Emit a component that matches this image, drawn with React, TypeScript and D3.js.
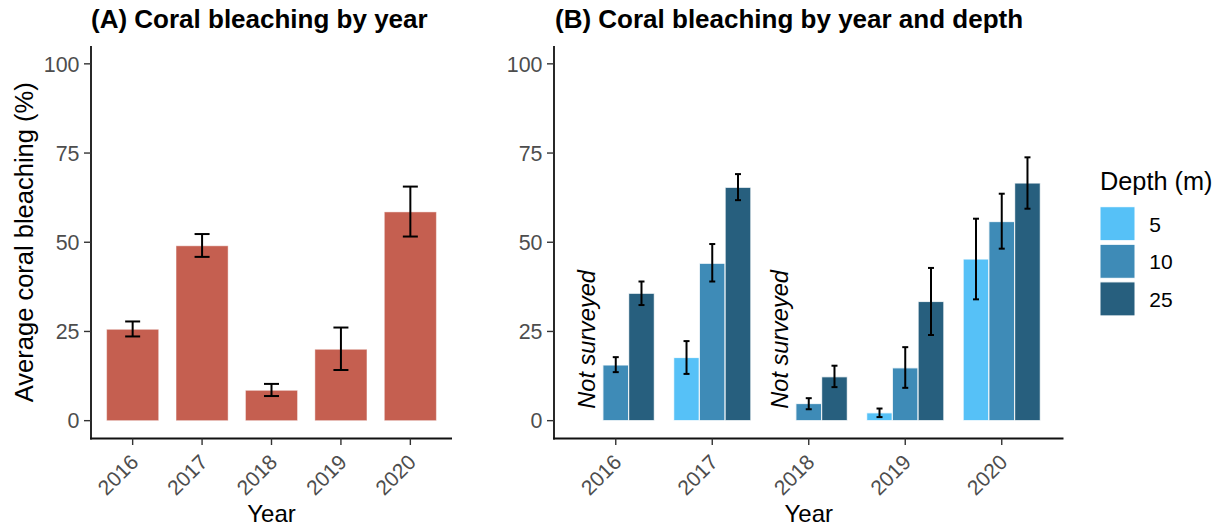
import * as d3 from "d3"

const years = ["2016", "2017", "2018", "2019", "2020"]
const depths = ["5", "10", "25"]
const yTicks = [0, 25, 50, 75, 100]

// panel A: overall mean and error bounds
const overallMean = [25.6, 49.0, 8.5, 20.0, 58.5]
const overallLow = [23.6, 45.9, 6.9, 14.2, 51.6]
const overallHigh = [27.8, 52.3, 10.3, 26.1, 65.6]

// panel B: by depth (null = not surveyed)
const mean5 = [null, 17.7, null, 2.2, 45.3]
const low5 = [null, 13.1, null, 1.0, 34.0]
const high5 = [null, 22.3, null, 3.4, 56.6]
const mean10 = [15.6, 44.1, 4.8, 14.8, 55.8]
const low10 = [13.6, 39.0, 3.2, 9.2, 48.2]
const high10 = [17.8, 49.5, 6.3, 20.6, 63.6]
const mean25 = [35.7, 65.4, 12.3, 33.4, 66.6]
const low25 = [32.4, 61.8, 9.4, 24.0, 59.4]
const high25 = [39.0, 69.1, 15.4, 42.8, 73.8]

const depthColors = ["#56C1F7", "#3E8BB7", "#275F7E"]
const barRed = "#C55F50"
const font = "'Liberation Sans', Arial, Helvetica, sans-serif"

const W = 1225
const H = 532
const top = 46
const bottom = 438.5

type Row = { year: string; depth: string; mean: number; low: number; high: number }

const depthRows: Row[] = []
const byDepth = [
  [mean5, low5, high5],
  [mean10, low10, high10],
  [mean25, low25, high25],
]
years.forEach((year, i) => {
  depths.forEach((depth, j) => {
    const [m, l, h] = byDepth[j]
    const v = m[i]
    if (v != null) depthRows.push({ year, depth, mean: v, low: l[i] as number, high: h[i] as number })
  })
})
const notSurveyed = years.filter((_, i) => mean5[i] == null)

function Axes({ x, y, x0, x1 }: { x: d3.ScalePoint<string>; y: d3.ScaleLinear<number, number>; x0: number; x1: number }) {
  return (
    <g fontFamily={font}>
      <line x1={x0} x2={x0} y1={top} y2={bottom + 0.9} stroke="#111" strokeWidth={1.8} />
      <line x1={x0 - 0.9} x2={x1} y1={bottom} y2={bottom} stroke="#111" strokeWidth={1.8} />
      {yTicks.map((t) => (
        <g key={t}>
          <line x1={x0 - 7} x2={x0} y1={y(t)} y2={y(t)} stroke="#333" strokeWidth={1.4} />
          <text x={x0 - 11.5} y={y(t)} dy="0.36em" textAnchor="end" fontSize={21.4} fill="#4D4D4D">
            {t}
          </text>
        </g>
      ))}
      {years.map((yr) => (
        <g key={yr}>
          <line x1={x(yr)} x2={x(yr)} y1={bottom} y2={bottom + 6.5} stroke="#333" strokeWidth={1.4} />
          <text
            transform={`translate(${(x(yr) as number) + 7},${bottom + 25}) rotate(-45)`}
            textAnchor="end"
            fontSize={21}
            fill="#4D4D4D"
          >
            {yr}
          </text>
        </g>
      ))}
      <text x={(x0 + x1) / 2} y={521.5} textAnchor="middle" fontSize={24} fill="#000">
        Year
      </text>
    </g>
  )
}

function ErrorBar({ cx, w, y0, y1 }: { cx: number; w: number; y0: number; y1: number }) {
  return (
    <g stroke="#000" strokeWidth={2}>
      <line x1={cx} x2={cx} y1={y0} y2={y1} />
      <line x1={cx - w / 2} x2={cx + w / 2} y1={y0} y2={y0} />
      <line x1={cx - w / 2} x2={cx + w / 2} y1={y1} y2={y1} />
    </g>
  )
}

export default function App() {
  const y = d3.scaleLinear().domain([-5, 105]).range([bottom, top])

  // panel A
  const ax0 = 91
  const ax1 = 452
  const xA = d3.scalePoint<string>().domain(years).range([ax0, ax1]).padding(0.6)
  const bwA = xA.step() * 0.75

  // panel B
  const bx0 = 554
  const bx1 = 1063.5
  const xB = d3.scalePoint<string>().domain(years).range([bx0, bx1]).padding(0.64)
  const sub = d3
    .scaleBand<string>()
    .domain(depths)
    .range([-xB.step() * 0.4, xB.step() * 0.4])
  const color = d3.scaleOrdinal<string, string>().domain(depths).range(depthColors)

  return (
    <svg width={W} height={H} style={{ position: "absolute", left: 0, top: 0, background: "#fff" }}>
      <g fontFamily={font}>
        <text x={91} y={28} fontSize={26} fontWeight="bold">
          (A) Coral bleaching by year
        </text>
        <text x={555} y={28} fontSize={26} fontWeight="bold">
          (B) Coral bleaching by year and depth
        </text>
        <text
          transform={`translate(33,${y(50)}) rotate(-90)`}
          textAnchor="middle"
          fontSize={25.5}
        >
          Average coral bleaching (%)
        </text>
      </g>

      {/* panel A bars */}
      {years.map((yr, i) => {
        const cx = xA(yr) as number
        return (
          <g key={yr}>
            <rect
              x={cx - bwA / 2}
              width={bwA}
              y={y(overallMean[i])}
              height={y(0) - y(overallMean[i])}
              fill={barRed}
              stroke="#fff"
              strokeOpacity={0.45}
              strokeWidth={1}
            />
            <ErrorBar cx={cx} w={15} y0={y(overallHigh[i])} y1={y(overallLow[i])} />
          </g>
        )
      })}
      <Axes x={xA} y={y} x0={ax0} x1={ax1} />

      {/* panel B bars */}
      {depthRows.map((d) => {
        const left = (xB(d.year) as number) + (sub(d.depth) as number)
        const cx = left + sub.bandwidth() / 2
        return (
          <g key={d.year + d.depth}>
            <rect
              x={left}
              width={sub.bandwidth()}
              y={y(d.mean)}
              height={y(0) - y(d.mean)}
              fill={color(d.depth)}
              stroke="#fff"
              strokeOpacity={0.8}
              strokeWidth={1.2}
            />
            <ErrorBar cx={cx} w={6} y0={y(d.high)} y1={y(d.low)} />
          </g>
        )
      })}
      {notSurveyed.map((yr) => {
        const cx = (xB(yr) as number) + (sub("5") as number) + sub.bandwidth() / 2
        return (
          <text
            key={yr}
            transform={`translate(${cx + 4.5},${y(0) - 12}) rotate(-90)`}
            fontFamily={font}
            fontStyle="italic"
            fontSize={23.5}
          >
            Not surveyed
          </text>
        )
      })}
      <Axes x={xB} y={y} x0={bx0} x1={bx1} />

      {/* legend */}
      <g fontFamily={font}>
        <text x={1100} y={189.5} fontSize={25.3}>
          Depth (m)
        </text>
        {depths.map((d, i) => (
          <g key={d} transform={`translate(1100,${206.7 + i * 37.6})`}>
            <rect width={35} height={34} fill={color(d)} stroke="#fff" strokeWidth={1} />
            <text x={49.3} y={17.3} dy="0.36em" fontSize={21}>
              {d}
            </text>
          </g>
        ))}
      </g>
    </svg>
  )
}
